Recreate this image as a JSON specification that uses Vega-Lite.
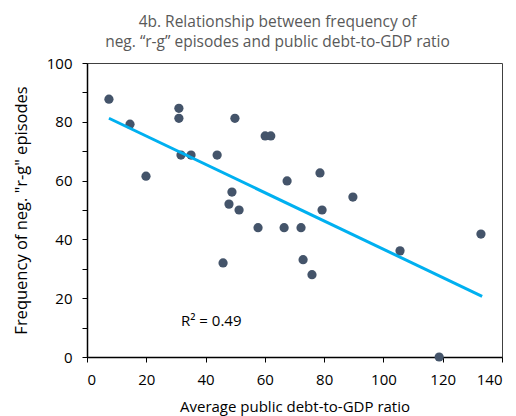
{
  "$schema": "https://vega.github.io/schema/vega-lite/v6.json",
  "width": 415,
  "height": 294,
  "autosize": {"type": "none"},
  "padding": {"left": 87, "top": 63, "right": 14, "bottom": 59},
  "background": "white",
  "config": {
    "font": "Open Sans",
    "view": {"stroke": "#404040", "strokeWidth": 1}
  },
  "title": {
    "text": ["4b. Relationship between frequency of", "neg.  \u201cr-g\u201d episodes and public debt-to-GDP ratio"],
    "font": "Open Sans",
    "fontSize": 15.5,
    "fontWeight": "normal",
    "color": "#595959",
    "anchor": "middle",
    "dx": -17,
    "offset": 6,
    "lineHeight": 20
  },
  "datasets": {
    "pts": [
      {"debt": 7.4, "freq": 87.7},
      {"debt": 14.5, "freq": 79.2},
      {"debt": 19.9, "freq": 61.5},
      {"debt": 31.0, "freq": 84.6},
      {"debt": 31.0, "freq": 81.2},
      {"debt": 31.7, "freq": 68.7},
      {"debt": 35.1, "freq": 68.7},
      {"debt": 43.9, "freq": 68.7},
      {"debt": 49.9, "freq": 81.2},
      {"debt": 48.9, "freq": 56.1},
      {"debt": 47.9, "freq": 52.0},
      {"debt": 51.3, "freq": 50.0},
      {"debt": 45.9, "freq": 32.0},
      {"debt": 57.7, "freq": 44.0},
      {"debt": 60.1, "freq": 75.2},
      {"debt": 62.0, "freq": 75.2},
      {"debt": 67.5, "freq": 59.9},
      {"debt": 66.5, "freq": 44.0},
      {"debt": 72.2, "freq": 44.0},
      {"debt": 72.9, "freq": 33.1},
      {"debt": 75.9, "freq": 28.0},
      {"debt": 78.6, "freq": 62.6},
      {"debt": 79.3, "freq": 50.0},
      {"debt": 89.7, "freq": 54.4},
      {"debt": 105.6, "freq": 36.1},
      {"debt": 118.8, "freq": 0},
      {"debt": 132.9, "freq": 41.8}
    ],
    "lbl": [{"debt": 31.7, "freq": 12.3, "t": "R\u00b2 = 0.49"}]
  },
  "encoding": {
    "x": {
      "field": "debt", "type": "quantitative",
      "scale": {"domain": [0, 140], "nice": false, "zero": false},
      "axis": {
        "title": "Average public debt-to-GDP ratio",
        "values": [0, 20, 40, 60, 80, 100, 120, 140],
        "grid": false,
        "domainColor": "#000000",
        "domainWidth": 1.5,
        "tickColor": "#000000",
        "tickSize": 5,
        "labelPadding": 10,
        "labelFontSize": 15,
        "labelColor": "#000000",
        "labelFont": "Open Sans",
        "titleFont": "Open Sans",
        "titleFontSize": 15,
        "titleFontWeight": "normal",
        "titleColor": "#000000",
        "titlePadding": 12
      }
    },
    "y": {
      "field": "freq", "type": "quantitative",
      "scale": {"domain": [0, 100], "nice": false},
      "axis": {
        "title": "Frequency of neg. \"r-g\" episodes",
        "values": [0, 10, 20, 30, 40, 50, 60, 70, 80, 90, 100],
        "labelExpr": "datum.value % 20 === 0 ? datum.label : ''",
        "grid": false,
        "domainColor": "#000000",
        "domainWidth": 1.5,
        "tickColor": "#000000",
        "tickSize": 5,
        "labelPadding": 10,
        "labelFontSize": 15,
        "labelColor": "#000000",
        "labelFont": "Open Sans",
        "titleFont": "Open Sans",
        "titleFontSize": 16.5,
        "titleFontWeight": "normal",
        "titleColor": "#000000",
        "titlePadding": 17
      }
    }
  },
  "layer": [
    {
      "data": {"name": "pts"},
      "mark": {"type": "circle", "size": 85, "color": "#44546A", "opacity": 1},
      "encoding": {}
    },
    {
      "data": {"name": "pts"},
      "transform": [{"regression": "freq", "on": "debt", "extent": [7.4, 133.3]}],
      "mark": {"type": "line", "color": "#00B0F0", "strokeWidth": 3},
      "encoding": {}
    },
    {
      "data": {"name": "lbl"},
      "mark": {"type": "text", "align": "left", "baseline": "middle", "fontSize": 15, "font": "Open Sans", "color": "#000000"},
      "encoding": {"text": {"field": "t"}}
    }
  ]
}
